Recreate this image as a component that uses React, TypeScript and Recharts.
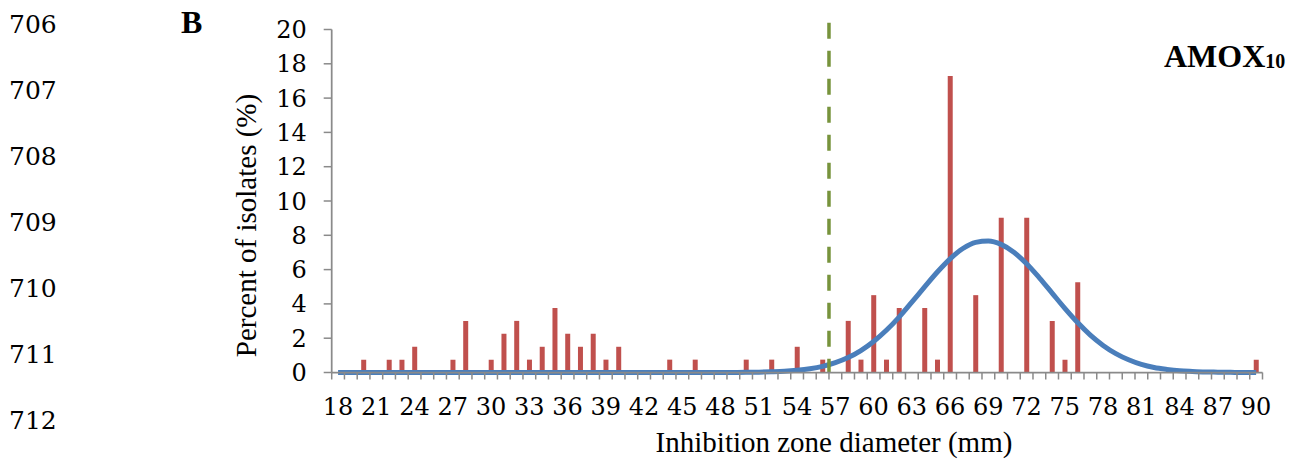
import React from 'react';
import { ComposedChart, Bar, Line, XAxis, YAxis, ReferenceLine, Label } from 'recharts';

// ---- data ----
const diameters = [
  18, 19, 20, 21, 22, 23, 24, 25, 26, 27, 28, 29, 30, 31, 32, 33, 34, 35, 36, 37,
  38, 39, 40, 41, 42, 43, 44, 45, 46, 47, 48, 49, 50, 51, 52, 53, 54, 55, 56, 57,
  58, 59, 60, 61, 62, 63, 64, 65, 66, 67, 68, 69, 70, 71, 72, 73, 74, 75, 76, 77,
  78, 79, 80, 81, 82, 83, 84, 85, 86, 87, 88, 89, 90,
];

const percentIsolates = [
  0, 0, 0.75, 0, 0.75, 0.75, 1.5, 0, 0, 0.75, 3.01, 0, 0.75, 2.26, 3.01, 0.75, 1.5, 3.76, 2.26, 1.5,
  2.26, 0.75, 1.5, 0, 0, 0, 0.75, 0, 0.75, 0, 0, 0, 0.75, 0, 0.75, 0, 1.5, 0, 0.75, 0,
  3.01, 0.75, 4.51, 0.75, 3.76, 0, 3.76, 0.75, 17.29, 0, 4.51, 0, 9.02, 0, 9.02, 0, 3.01, 0.75, 5.26, 0,
  0, 0, 0, 0, 0, 0, 0, 0, 0, 0, 0, 0, 0.75,
];

const normalCurve = [
  0, 0, 0, 0, 0, 0, 0, 0, 0, 0, 0, 0, 0, 0, 0, 0, 0, 0, 0, 0,
  0, 0, 0, 0, 0, 0, 0, 0, 0, 0, 0, 0.005, 0.01, 0.02, 0.04, 0.07, 0.13, 0.22, 0.36, 0.57,
  0.87, 1.28, 1.81, 2.46, 3.23, 4.1, 4.99, 5.86, 6.63, 7.23, 7.59, 7.67, 7.47, 7.01, 6.34, 5.52, 4.63, 3.74, 2.91, 2.18,
  1.58, 1.1, 0.74, 0.47, 0.29, 0.18, 0.1, 0.06, 0.03, 0.02, 0.01, 0, 0,
];

const xTickLabels = [18, 21, 24, 27, 30, 33, 36, 39, 42, 45, 48, 51, 54, 57, 60, 63, 66, 69, 72, 75, 78, 81, 84, 87, 90];
const yTicks = [0, 2, 4, 6, 8, 10, 12, 14, 16, 18, 20];
const breakpoint = 56.5;
const breakpointTop = 20.4;
const lineNumbers = ['706', '707', '708', '709', '710', '711', '712'];

const data = diameters.map((d, i) => ({ d, pct: percentIsolates[i], fit: normalCurve[i] }));
const xDomain: [number, number] = [diameters[0] - 0.5, diameters[diameters.length - 1] + 0.5];

// ---- layout ----
const W = 1298;
const H = 466;
const MARGIN = { top: 29.5, right: 35.5, bottom: 0, left: 271.7 };
const Y_AXIS_W = 60;
const PLOT_W = W - MARGIN.left - MARGIN.right - Y_AXIS_W;
const HALF_BAND = PLOT_W / diameters.length / 2;
const AXIS_COLOR = '#8a8a8a';
const TICK_FONT = 'DejaVu Serif';
const TITLE_FONT = 'Liberation Serif';
const X_TICK_LEN = 7;

const XTick = (props: any) => {
  const { x, y, payload, index } = props;
  const v = payload.value;
  const isLast = index === diameters.length - 1;
  return (
    <g>
      <line x1={x - HALF_BAND} x2={x - HALF_BAND} y1={y} y2={y + X_TICK_LEN} stroke={AXIS_COLOR} strokeWidth={1.5} />
      {isLast && (
        <line x1={x + HALF_BAND} x2={x + HALF_BAND} y1={y} y2={y + X_TICK_LEN} stroke={AXIS_COLOR} strokeWidth={1.5} />
      )}
      {xTickLabels.includes(v) && (
        <text x={x} y={y + 42.5} textAnchor="middle" fontFamily={TICK_FONT} fontSize={24} fill="#000">
          {v}
        </text>
      )}
    </g>
  );
};

export default function App() {
  return (
    <div style={{ position: 'absolute', left: 0, top: 0, width: W, height: H, background: '#fff' }}>
      <ComposedChart width={W} height={H} data={data} margin={MARGIN}>
        <XAxis
          type="number"
          dataKey="d"
          domain={xDomain}
          ticks={diameters}
          interval={0}
          tick={XTick}
          tickSize={0}
          tickMargin={0}
          tickLine={false}
          axisLine={{ stroke: AXIS_COLOR, strokeWidth: 1.75 }}
          height={93.5}
          allowDataOverflow
        >
          <Label
            content={() => (
              <text x={834} y={452} textAnchor="middle" fontFamily={TITLE_FONT} fontSize={29} fill="#000">
                Inhibition zone diameter (mm)
              </text>
            )}
          />
        </XAxis>
        <YAxis
          type="number"
          domain={[0, 20]}
          ticks={yTicks}
          interval={0}
          width={Y_AXIS_W}
          tickSize={8}
          tickMargin={17}
          tickLine={{ stroke: AXIS_COLOR, strokeWidth: 1.5 }}
          axisLine={{ stroke: AXIS_COLOR, strokeWidth: 1.75 }}
          tick={{ fill: '#000', fontFamily: TICK_FONT, fontSize: 24 }}
        >
          <Label
            content={() => (
              <text
                x={256}
                y={225.5}
                transform="rotate(-90 256 225.5)"
                textAnchor="middle"
                fontFamily={TITLE_FONT}
                fontSize={29}
                fill="#000"
              >
                Percent of isolates (%)
              </text>
            )}
          />
        </YAxis>
        <Bar dataKey="pct" fill="#C0504D" barSize={5} isAnimationActive={false} />
        <Line
          type="monotone"
          dataKey="fit"
          stroke="#4A7EBB"
          strokeWidth={5}
          dot={false}
          activeDot={false}
          isAnimationActive={false}
        />
        <ReferenceLine
          segment={[
            { x: breakpoint, y: breakpointTop },
            { x: breakpoint, y: 0 },
          ]}
          ifOverflow="visible"
          stroke="#77933C"
          strokeWidth={3.5}
          strokeDasharray="16 12"
        />
      </ComposedChart>
      <svg width={W} height={H} style={{ position: 'absolute', left: 0, top: 0, pointerEvents: 'none' }}>
        {lineNumbers.map((n, i) => (
          <text key={n} x={9} y={33 + 66 * i} fontFamily={TICK_FONT} fontSize={25} fill="#000">
            {n}
          </text>
        ))}
        <text x={181} y={33} fontFamily={TITLE_FONT} fontWeight="bold" fontSize={32} fill="#000">
          B
        </text>
        <text x={1164} y={67} fontFamily={TITLE_FONT} fontWeight="bold" fontSize={32} fill="#000">
          AMOX
          <tspan fontSize={20} dy={1}>10</tspan>
        </text>
      </svg>
    </div>
  );
}
